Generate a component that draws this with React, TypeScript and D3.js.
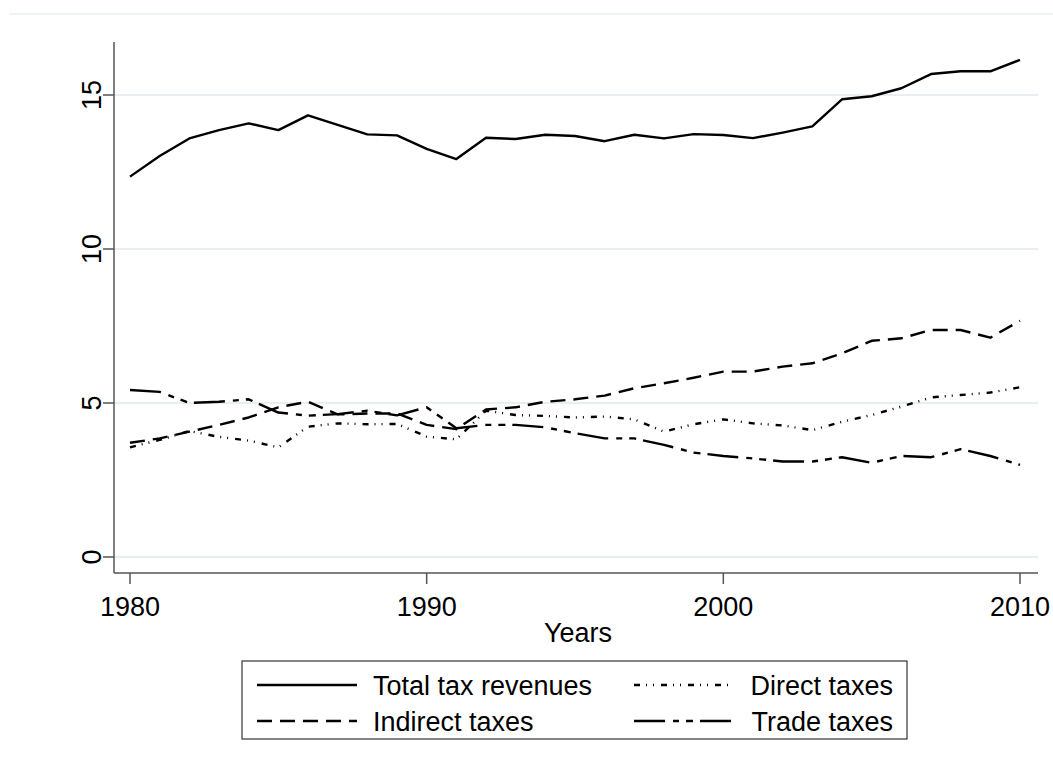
import React from 'react'
import * as d3 from 'd3'

const years = [
  1980, 1981, 1982, 1983, 1984, 1985, 1986, 1987, 1988, 1989, 1990, 1991, 1992, 1993, 1994, 1995,
  1996, 1997, 1998, 1999, 2000, 2001, 2002, 2003, 2004, 2005, 2006, 2007, 2008, 2009, 2010,
]

const totalTax = [
  12.35, 13.02, 13.59, 13.86, 14.08, 13.86, 14.34, 14.03, 13.72, 13.69, 13.25, 12.92, 13.61, 13.57,
  13.71, 13.67, 13.5, 13.71, 13.59, 13.73, 13.7, 13.6, 13.78, 13.98, 14.86, 14.96, 15.22, 15.68,
  15.77, 15.77, 16.14,
]

const indirectTax = [
  3.71, 3.85, 4.07, 4.29, 4.53, 4.86, 5.04, 4.63, 4.66, 4.66, 4.29, 4.15, 4.79, 4.86, 5.04, 5.12,
  5.24, 5.48, 5.64, 5.82, 6.02, 6.02, 6.18, 6.29, 6.61, 7.02, 7.1, 7.37, 7.37, 7.12, 7.67,
]

const directTax = [
  3.56, 3.8, 4.09, 3.9, 3.78, 3.56, 4.23, 4.34, 4.31, 4.32, 3.91, 3.82, 4.75, 4.61, 4.58, 4.53,
  4.56, 4.47, 4.07, 4.31, 4.47, 4.34, 4.27, 4.12, 4.39, 4.61, 4.88, 5.18, 5.26, 5.34, 5.51,
]

const tradeTax = [
  5.42, 5.36, 5.0, 5.04, 5.12, 4.69, 4.59, 4.64, 4.75, 4.6, 4.86, 4.18, 4.29, 4.29, 4.21, 4.02,
  3.85, 3.85, 3.64, 3.39, 3.28, 3.2, 3.1, 3.1, 3.24, 3.06, 3.28, 3.24, 3.5, 3.28, 2.99,
]

const xTicks = [1980, 1990, 2000, 2010]
const yTicks = [0, 5, 10, 15]

const seriesList = [
  { name: 'Total tax revenues', values: totalTax, dash: 'none' },
  { name: 'Direct taxes', values: directTax, dash: '6 6 1 6 1 7' },
  { name: 'Indirect taxes', values: indirectTax, dash: '15 8' },
  { name: 'Trade taxes', values: tradeTax, dash: '31 8 6 7 7 7' },
]

const FONT = 'Arial, "Liberation Sans", sans-serif'
const FS = 27

export default function App() {
  const width = 1053
  const height = 773
  const plot = { left: 114, right: 1038, top: 42, bottom: 573 }

  const x = d3.scaleLinear().domain([1980, 2010]).range([130, 1020])
  const y = d3.scaleLinear().domain([0, 15]).range([557, 95])

  const line = (vals: number[]) =>
    d3.line<number>()
      .x((_, i) => x(years[i]))
      .y(d => y(d))(vals) || ''

  // legend: 2 columns x 2 rows
  const legendBox = { x: 242, y: 661, w: 665, h: 78 }
  const rowY = [685, 721]

  return (
    <svg width={width} height={height} style={{ position: 'absolute', left: 0, top: 0, background: '#fff' }}>
      {/* faint outer region edge */}
      <line x1={9} x2={width} y1={14} y2={14} stroke="#e9eff3" strokeWidth={1.5} />

      {/* gridlines */}
      {yTicks.map(t => (
        <line key={'g' + t} x1={plot.left} x2={plot.right} y1={y(t)} y2={y(t)} stroke="#e8eff2" strokeWidth={2} />
      ))}

      {/* axes */}
      <line x1={plot.left} x2={plot.left} y1={plot.top} y2={plot.bottom} stroke="#555" strokeWidth={1.5} />
      <line x1={plot.left} x2={plot.right} y1={plot.bottom} y2={plot.bottom} stroke="#555" strokeWidth={1.5} />

      {yTicks.map(t => (
        <g key={'y' + t}>
          <line x1={plot.left - 11} x2={plot.left} y1={y(t)} y2={y(t)} stroke="#555" strokeWidth={1.5} />
          <text
            transform={`translate(101,${y(t)}) rotate(-90)`}
            textAnchor="middle"
            fontFamily={FONT}
            fontSize={FS}
            fill="#000"
          >
            {t}
          </text>
        </g>
      ))}

      {xTicks.map(t => (
        <g key={'x' + t}>
          <line x1={x(t)} x2={x(t)} y1={plot.bottom} y2={plot.bottom + 11} stroke="#555" strokeWidth={1.5} />
          <text x={x(t)} y={616} textAnchor="middle" fontFamily={FONT} fontSize={FS} fill="#000">
            {t}
          </text>
        </g>
      ))}

      <text x={(plot.left + plot.right) / 2 + 2} y={642} textAnchor="middle" fontFamily={FONT} fontSize={FS} fill="#000">
        Years
      </text>

      {/* series */}
      {seriesList.map(s => (
        <path
          key={s.name}
          d={line(s.values)}
          fill="none"
          stroke="#000"
          strokeWidth={2.4}
          strokeDasharray={s.dash}
          strokeLinejoin="round"
        />
      ))}

      {/* legend */}
      <rect x={legendBox.x} y={legendBox.y} width={legendBox.w} height={legendBox.h} fill="#fff" stroke="#333" strokeWidth={1.2} />
      {seriesList.map((s, i) => {
        const col = i % 2
        const row = Math.floor(i / 2)
        const ly = rowY[row]
        const x0 = col === 0 ? 257 : 634
        return (
          <g key={'l' + s.name}>
            <line x1={x0} x2={x0 + 100} y1={ly} y2={ly} stroke="#000" strokeWidth={2.4} strokeDasharray={s.dash} />
            <text
              x={col === 0 ? 373 : 893}
              y={ly + 10}
              textAnchor={col === 0 ? 'start' : 'end'}
              fontFamily={FONT}
              fontSize={FS}
              fill="#000"
            >
              {s.name}
            </text>
          </g>
        )
      })}
    </svg>
  )
}
